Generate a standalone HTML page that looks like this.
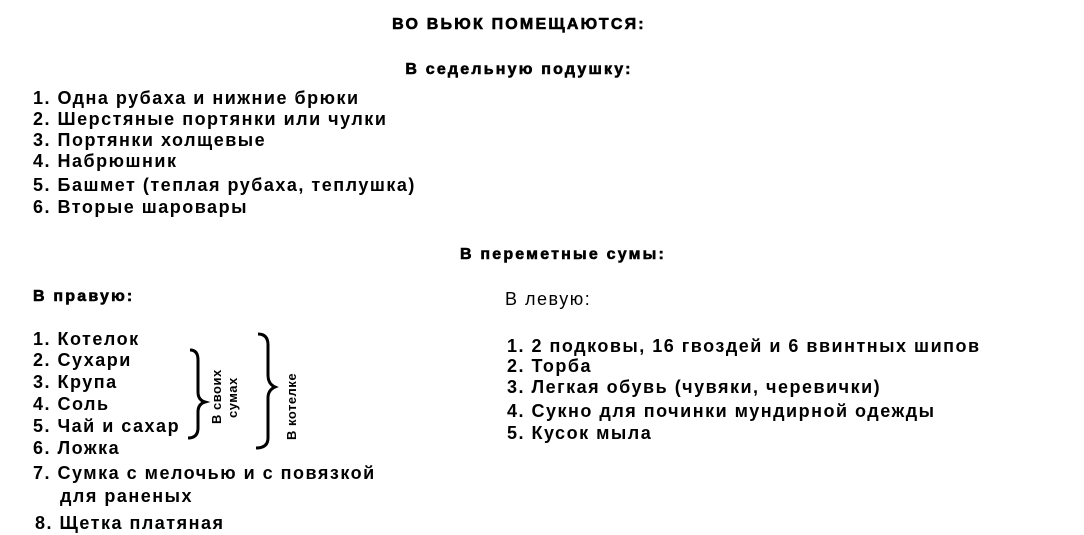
<!DOCTYPE html>
<html><head><meta charset="utf-8"><style>
body{margin:0;width:1084px;height:535px;background:#fff;position:relative;overflow:hidden;font-family:"Liberation Sans","DejaVu Sans",sans-serif;color:#000}
.t{position:absolute;white-space:nowrap;font-weight:bold;font-size:18px;letter-spacing:1.5px;line-height:20px}
.h{position:absolute;white-space:nowrap;font-weight:900;font-size:16px;letter-spacing:2.2px;line-height:18px;transform:translateX(-50%);-webkit-text-stroke:0.6px #000}
.v{position:absolute;font-weight:bold;font-size:13px;line-height:13px;transform:rotate(-90deg);transform-origin:left top;white-space:nowrap;letter-spacing:0.5px}
</style></head><body>
<div class="h" style="left:519px;top:16px">ВО ВЬЮК ПОМЕЩАЮТСЯ:</div>
<div class="h" style="left:519px;top:61px">В седельную подушку:</div>
<div class="t" style="left:33px;top:88px">1. Одна рубаха и нижние брюки</div>
<div class="t" style="left:33px;top:109px">2. Шерстяные портянки или чулки</div>
<div class="t" style="left:33px;top:130px">3. Портянки холщевые</div>
<div class="t" style="left:33px;top:151px">4. Набрюшник</div>
<div class="t" style="left:33px;top:175px">5. Башмет (теплая рубаха, теплушка)</div>
<div class="t" style="left:33px;top:197px">6. Вторые шаровары</div>
<div class="h" style="left:563px;top:246px">В переметные сумы:</div>
<div class="h" style="left:33px;top:288px;transform:none">В правую:</div>
<div class="t" style="left:505px;top:289px;font-weight:normal">В левую:</div>
<div class="t" style="left:33px;top:329px">1. Котелок</div>
<div class="t" style="left:33px;top:350px">2. Сухари</div>
<div class="t" style="left:33px;top:372px">3. Крупа</div>
<div class="t" style="left:33px;top:394px">4. Соль</div>
<div class="t" style="left:33px;top:416px">5. Чай и сахар</div>
<div class="t" style="left:33px;top:438px">6. Ложка</div>
<div class="t" style="left:33px;top:463px">7. Сумка с мелочью и с повязкой</div>
<div class="t" style="left:60px;top:486px">для раненых</div>
<div class="t" style="left:35px;top:513px">8. Щетка платяная</div>
<svg style="position:absolute;left:0;top:0" width="1084" height="535">
<path d="M190,350 Q198,350 198,360 L198,392 Q198,400 205,402 Q198,404 198,412 L198,428 Q198,438 188,438" fill="none" stroke="#000" stroke-width="3"/>
<path d="M258,334 Q268,334 268,345 L268,375 Q268,384 275,387 Q268,390 268,398 L268,438 Q268,448 256,448" fill="none" stroke="#000" stroke-width="3"/>
</svg>
<div class="v" style="left:210px;top:424px">В своих</div>
<div class="v" style="left:226px;top:418px">сумах</div>
<div class="v" style="left:285px;top:440px">В котелке</div>
<div class="t" style="left:507px;top:336px">1. 2 подковы, 16 гвоздей и 6 ввинтных шипов</div>
<div class="t" style="left:507px;top:356px">2. Торба</div>
<div class="t" style="left:507px;top:377px">3. Легкая обувь (чувяки, черевички)</div>
<div class="t" style="left:507px;top:401px">4. Сукно для починки мундирной одежды</div>
<div class="t" style="left:507px;top:423px">5. Кусок мыла</div>
</body></html>
